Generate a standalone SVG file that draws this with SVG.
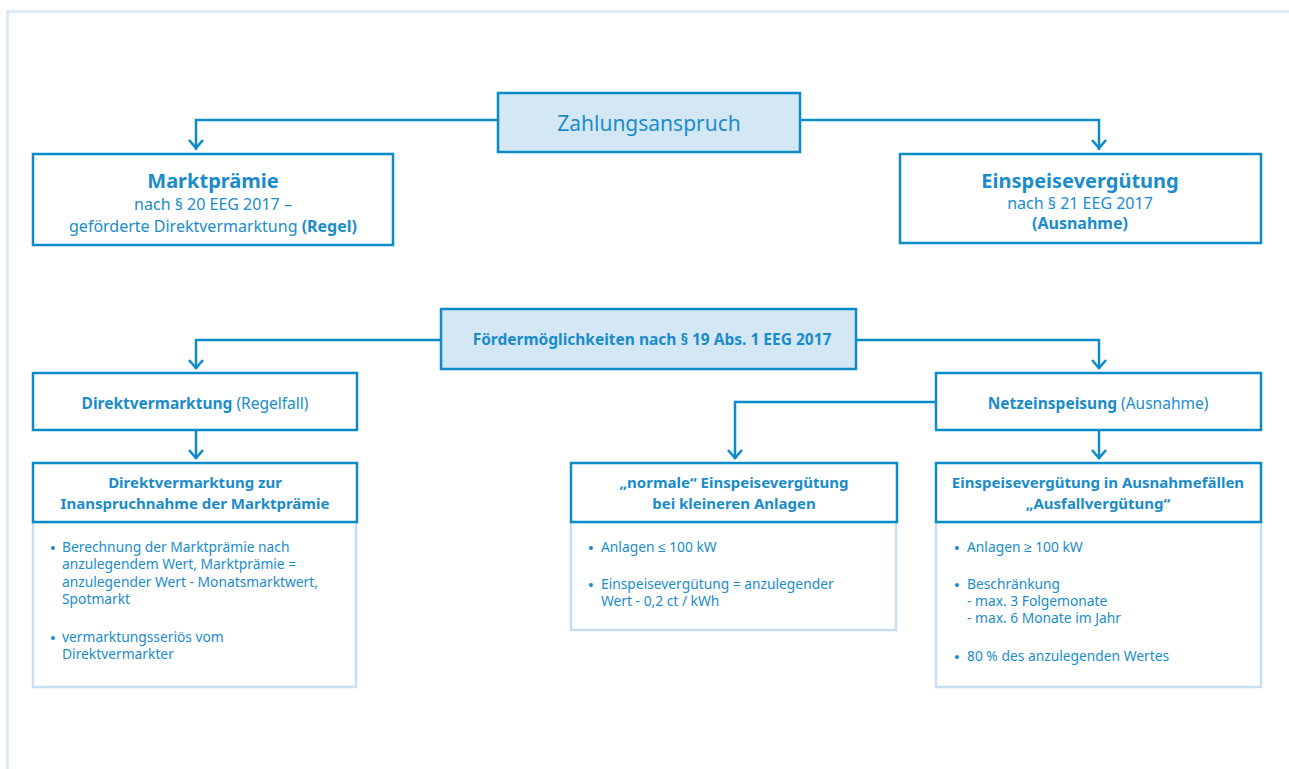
<svg xmlns="http://www.w3.org/2000/svg" width="1289" height="769" viewBox="0 0 1289 769">
<style>
text{font-family:"Noto Sans","Liberation Sans",sans-serif;fill:#1a8ccb}
.b{font-weight:bold}
.box{fill:#fff;stroke:#0b8bc8;stroke-width:2.5}
.hl{fill:#d4e7f5;stroke:#0b8bc8;stroke-width:2.5}
.body{fill:#fff;stroke:#c5def1;stroke-width:2.5}
.con{fill:none;stroke:#0b8bc8;stroke-width:2.5}
.arr{fill:none;stroke:#0b8bc8;stroke-width:2.5;stroke-linejoin:miter}
.t21{font-size:21px}
.t20{font-size:20px}
.t16{font-size:16px}
.t15{font-size:15.5px}
.th{font-size:15px}
.t13{font-size:13.8px}
.dot{fill:#1a8ccb}
</style>
<rect width="1289" height="769" fill="#fff"/>
<path d="M7.5 769 V11.5 H1289" fill="none" stroke="#d6e8f5" stroke-width="2.5"/>

<g id="connectors">
<path class="con" d="M498 120 H196 V150"/>
<path class="arr" d="M189 140 L196 148 L203 140"/>
<path class="con" d="M800 120 H1099 V150"/>
<path class="arr" d="M1092 140 L1099 148 L1106 140"/>
<path class="con" d="M441 340 H196 V369"/>
<path class="arr" d="M189 360 L196 368 L203 360"/>
<path class="con" d="M856 340 H1099 V369"/>
<path class="arr" d="M1092 360 L1099 368 L1106 360"/>
<path class="con" d="M196 430 V459"/>
<path class="arr" d="M189 450 L196 458 L203 450"/>
<path class="con" d="M936 402 H735 V459"/>
<path class="arr" d="M728 450 L735 458 L742 450"/>
<path class="con" d="M1099 430 V459"/>
<path class="arr" d="M1092 450 L1099 458 L1106 450"/>
</g>

<g id="zahlungsanspruch">
<rect class="hl" x="498" y="93" width="302" height="59"/>
<text class="t21" x="649" y="131" text-anchor="middle">Zahlungsanspruch</text>
</g>

<g id="marktpraemie">
<rect class="box" x="33" y="154" width="360" height="91"/>
<text class="t20 b" x="213" y="188" text-anchor="middle">Marktprämie</text>
<text class="t16" x="213" y="210" text-anchor="middle">nach § 20 EEG 2017 –</text>
<text class="t16" x="213" y="232" text-anchor="middle">geförderte Direktvermarktung <tspan class="b">(Regel)</tspan></text>
</g>

<g id="einspeiseverguetung">
<rect class="box" x="900" y="154" width="361" height="89"/>
<text class="t20 b" x="1080" y="188" text-anchor="middle">Einspeisevergütung</text>
<text class="t16" x="1080" y="209" text-anchor="middle">nach § 21 EEG 2017</text>
<text class="t16 b" x="1080" y="229" text-anchor="middle">(Ausnahme)</text>
</g>

<g id="foerdermoeglichkeiten">
<rect class="hl" x="441" y="309" width="415" height="60"/>
<text class="t15 b" x="652" y="345" text-anchor="middle">Fördermöglichkeiten nach § 19 Abs. 1 EEG 2017</text>
</g>

<g id="direktvermarktung">
<rect class="box" x="33" y="373" width="324" height="57"/>
<text class="t15" x="195" y="409" text-anchor="middle"><tspan class="b">Direktvermarktung</tspan> (Regelfall)</text>
</g>

<g id="netzeinspeisung">
<rect class="box" x="936" y="373" width="325" height="57"/>
<text class="t15" x="1098" y="409" text-anchor="middle"><tspan class="b">Netzeinspeisung</tspan> (Ausnahme)</text>
</g>

<g id="dv-marktpraemie">
<rect class="body" x="33" y="522" width="323" height="165"/>
<rect class="box" x="33" y="463" width="324" height="59"/>
<text class="th b" x="195" y="488" text-anchor="middle">Direktvermarktung zur</text>
<text class="th b" x="195" y="509" text-anchor="middle">Inanspruchnahme der Marktprämie</text>
<circle class="dot" cx="53" cy="548" r="2"/>
<text class="t13" x="62" y="552">Berechnung der Marktprämie nach</text>
<text class="t13" x="62" y="569">anzulegendem Wert, Marktprämie =</text>
<text class="t13" x="62" y="587">anzulegender Wert - Monatsmarktwert,</text>
<text class="t13" x="62" y="604">Spotmarkt</text>
<circle class="dot" cx="53" cy="638" r="2"/>
<text class="t13" x="62" y="642">vermarktungsseriös vom</text>
<text class="t13" x="62" y="659">Direktvermarkter</text>
</g>

<g id="normale-einspeiseverguetung">
<rect class="body" x="571" y="522" width="325" height="108"/>
<rect class="box" x="571" y="463" width="326" height="59"/>
<text class="th b" x="734" y="488" text-anchor="middle">„normale“ Einspeisevergütung</text>
<text class="th b" x="734" y="509" text-anchor="middle">bei kleineren Anlagen</text>
<circle class="dot" cx="591" cy="548" r="2"/>
<text class="t13" x="601" y="552">Anlagen ≤ 100 kW</text>
<circle class="dot" cx="591" cy="585" r="2"/>
<text class="t13" x="601" y="589">Einspeisevergütung = anzulegender</text>
<text class="t13" x="601" y="606">Wert - 0,2 ct / kWh</text>
</g>

<g id="ausfallverguetung">
<rect class="body" x="936" y="522" width="325" height="165"/>
<rect class="box" x="936" y="463" width="325" height="59"/>
<text class="th b" x="1098" y="488" text-anchor="middle">Einspeisevergütung in Ausnahmefällen</text>
<text class="th b" x="1098" y="509" text-anchor="middle">„Ausfallvergütung“</text>
<circle class="dot" cx="957" cy="548" r="2"/>
<text class="t13" x="967" y="552">Anlagen ≥ 100 kW</text>
<circle class="dot" cx="957" cy="585" r="2"/>
<text class="t13" x="967" y="589">Beschränkung</text>
<text class="t13" x="967" y="606">- max. 3 Folgemonate</text>
<text class="t13" x="967" y="623">- max. 6 Monate im Jahr</text>
<circle class="dot" cx="957" cy="657" r="2"/>
<text class="t13" x="967" y="661">80 % des anzulegenden Wertes</text>
</g>
</svg>
